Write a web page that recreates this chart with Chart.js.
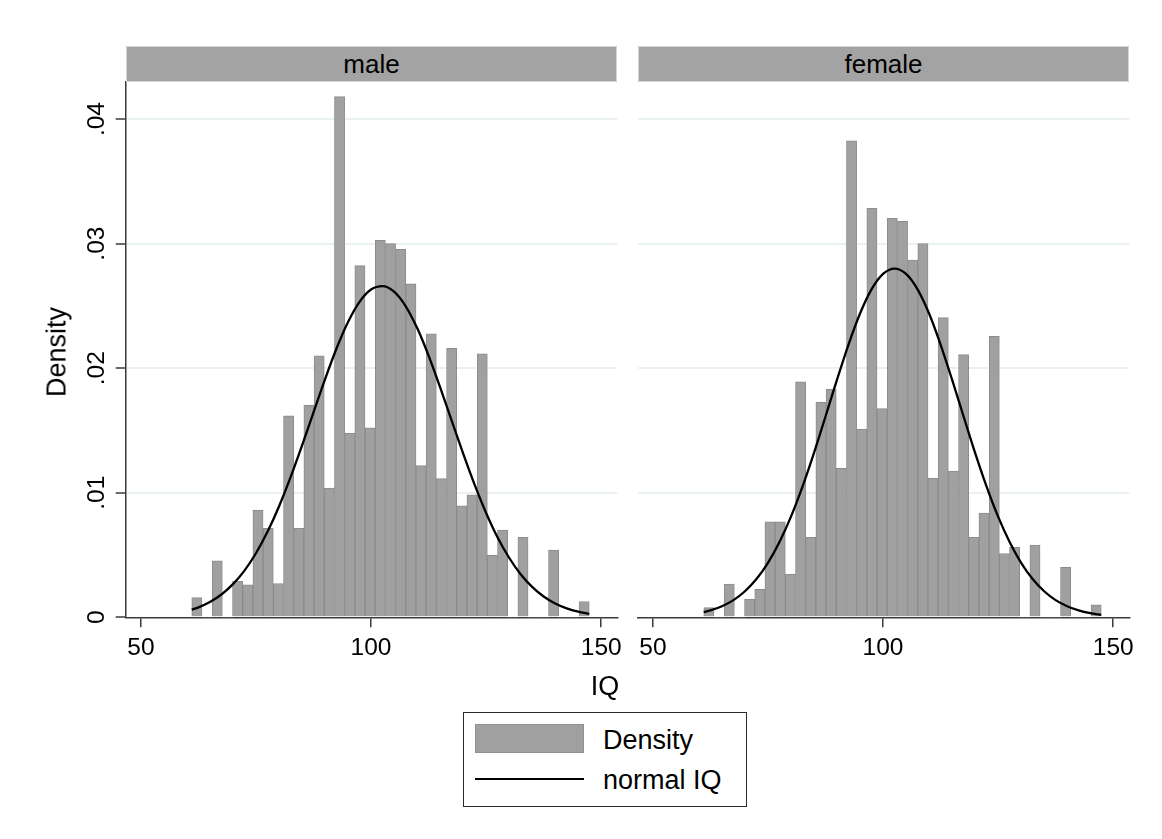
<!DOCTYPE html>
<html><head><meta charset="utf-8">
<script src="https://cdn.jsdelivr.net/npm/chart.js@4.4.1/dist/chart.umd.min.js"></script>
<style>
html,body{margin:0;padding:0;background:#fff;}
#wrap{position:relative;width:1162px;height:839px;overflow:hidden;font-family:'Liberation Sans',Arial,sans-serif;color:#000;background:#fff;}
canvas{position:absolute;left:0;top:0;}
.strip{position:absolute;box-sizing:border-box;background:#a3a3a3;border:1px solid #d6d6d6;display:flex;align-items:center;justify-content:center;font-size:26px;line-height:1;}
.ctr{position:absolute;transform:translate(-50%,-50%);white-space:nowrap;line-height:1;}
.lbl{position:absolute;white-space:nowrap;line-height:1;transform:translateY(-50%);}
</style></head><body>
<div id="wrap">
<canvas id="c1" width="1162" height="839"></canvas>
<canvas id="c2" width="1162" height="839"></canvas>
<div class="strip" style="left:125.7px;top:45.7px;width:491.6px;height:36px;" id="s1"></div>
<div class="strip" style="left:637.7px;top:45.7px;width:491.6px;height:36px;" id="s2"></div>
<div class="ctr" id="ytitle" style="left:57px;top:352px;font-size:27px;transform:translate(-50%,-50%) rotate(-90deg);"></div>
<div class="ctr" id="xtitle" style="left:605px;top:686px;font-size:27px;"></div>
<div style="position:absolute;box-sizing:border-box;left:462.7px;top:712.3px;width:284px;height:94.4px;border:1.5px solid #2a2a2a;background:#fff;"></div>
<div style="position:absolute;box-sizing:border-box;left:475px;top:724px;width:109.3px;height:29.3px;background:#a0a0a0;border:1px solid #909090;"></div>
<div style="position:absolute;left:475px;top:778.3px;width:109.3px;height:2px;background:#000;"></div>
<div class="lbl" id="leg1" style="left:603px;top:740px;font-size:27px;"></div>
<div class="lbl" id="leg2" style="left:603px;top:780px;font-size:27px;"></div>
</div>
<script>
// ---- data ----
const panelNames = ['male', 'female'];
const axisTitleY = 'Density';
const axisTitleX = 'IQ';
const legendLabels = ['Density', 'normal IQ'];

// histogram bin centres (IQ), shared by both panels
const binCenters = [62.16, 64.37, 66.59, 68.80, 71.01, 73.23, 75.44, 77.66, 79.87, 82.09,
  84.30, 86.51, 88.73, 90.94, 93.16, 95.37, 97.58, 99.80, 102.01, 104.23,
  106.44, 108.66, 110.87, 113.08, 115.30, 117.51, 119.73, 121.94, 124.16, 126.37,
  128.58, 130.80, 133.01, 135.23, 137.44, 139.66, 141.87, 144.08, 146.30];

const maleDensity = [0.00158, 0, 0.00454, 0, 0.00288, 0.0026, 0.0086, 0.00714, 0.00271, 0.01617,
  0.00714, 0.01702, 0.0210, 0.01038, 0.0418, 0.01478, 0.02824, 0.01522, 0.03026, 0.0300,
  0.02954, 0.02677, 0.01218, 0.02275, 0.01113, 0.02159, 0.00894, 0.00983, 0.02115, 0.00498,
  0.007, 0, 0.00642, 0, 0, 0.0054, 0, 0, 0.00127];

const femaleDensity = [0.00078, 0, 0.00266, 0, 0.00144, 0.00224, 0.00767, 0.00767, 0.00346, 0.0189,
  0.00642, 0.01727, 0.01833, 0.01196, 0.03826, 0.01511, 0.03283, 0.01675, 0.03203, 0.0318,
  0.02868, 0.03001, 0.01118, 0.02406, 0.01174, 0.02109, 0.00642, 0.00836, 0.02256, 0.00512,
  0.00562, 0, 0.00579, 0, 0, 0.00401, 0, 0, 0.001];

// normal curve points
const curveIQ = [61.05, 62.5, 65, 67.5, 70, 72.5, 75, 77.5, 80, 82.5, 85, 87.5, 90, 92.5, 95, 97.5,
  100, 102.5, 105, 107.5, 110, 112.5, 115, 117.5, 120, 122.5, 125, 127.5, 130, 132.5, 135, 137.5,
  140, 142.5, 145, 147.4];
const maleNormal = [0.00061, 0.0008, 0.00123, 0.00183, 0.00266, 0.00375, 0.00514, 0.00686, 0.0089, 0.01123,
  0.01378, 0.01646, 0.01911, 0.02158, 0.02371, 0.02533, 0.02632, 0.02659, 0.02614, 0.02499,
  0.02324, 0.02101, 0.01848, 0.01581, 0.01316, 0.01065, 0.00838, 0.00641, 0.00478, 0.00346,
  0.00244, 0.00167, 0.00111, 0.00072, 0.00045, 0.00028];
const femaleNormal = [0.00041, 0.00055, 0.00089, 0.00138, 0.00209, 0.00307, 0.00437, 0.00604, 0.00808, 0.01049,
  0.0132, 0.01612, 0.01908, 0.0219, 0.02439, 0.02633, 0.02757, 0.028, 0.02757, 0.02633,
  0.02439, 0.0219, 0.01908, 0.01612, 0.0132, 0.01049, 0.00808, 0.00604, 0.00437, 0.00307,
  0.00209, 0.00138, 0.00089, 0.00055, 0.00033, 0.0002];

const yTickValues = [0, 0.01, 0.02, 0.03, 0.04];
const yTickLabels = ['0', '.01', '.02', '.03', '.04'];
const xTickValues = [50, 100, 150];
const xTickLabels = ['50', '100', '150'];

// ---- text ----
document.getElementById('s1').textContent = panelNames[0];
document.getElementById('s2').textContent = panelNames[1];
document.getElementById('ytitle').textContent = axisTitleY;
document.getElementById('xtitle').textContent = axisTitleX;
document.getElementById('leg1').textContent = legendLabels[0];
document.getElementById('leg2').textContent = legendLabels[1];

Chart.defaults.font.family = "'Liberation Sans', Arial, sans-serif";

const AXIS = '#3a3a3a';
const TOP = 81.7, BOTTOM = 617.3, XH = 60;

function makeChart(id, dens, norm, isLeft, left, right) {
  return new Chart(document.getElementById(id), {
    type: 'bar',
    data: {
      datasets: [
        { type: 'line', data: curveIQ.map((x, i) => ({ x: x, y: norm[i] })),
          borderColor: '#000', borderWidth: 2.3, pointRadius: 0, fill: false,
          cubicInterpolationMode: 'monotone', order: 0 },
        { type: 'bar', data: binCenters.map((x, i) => ({ x: x, y: dens[i] })),
          backgroundColor: '#a0a0a0', borderColor: '#8c8c8c',
          borderWidth: c => (c.raw && c.raw.y > 0) ? 1 : 0,
          barPercentage: 1, categoryPercentage: 1, order: 1 }
      ]
    },
    options: {
      responsive: false, animation: false, devicePixelRatio: 1,
      layout: { padding: { left: isLeft ? 0 : left, right: 1162 - right, top: TOP, bottom: 839 - BOTTOM - XH } },
      plugins: { legend: { display: false }, tooltip: { enabled: false } },
      scales: {
        x: {
          type: 'linear', min: 46.7, max: 153.5, offset: false,
          afterBuildTicks: s => { s.ticks = xTickValues.map(v => ({ value: v })); },
          afterFit: s => { s.height = XH; },
          ticks: { callback: (v, i) => xTickLabels[i], font: { size: 24.5 }, color: '#000',
                   padding: 6, minRotation: 0, maxRotation: 0, autoSkip: false },
          grid: { display: true, offset: false, drawOnChartArea: false, drawTicks: true, tickLength: 10,
                  color: AXIS, tickColor: AXIS, lineWidth: 1.5, tickWidth: 1.5 },
          border: { display: true, color: AXIS, width: 1.5 }
        },
        y: {
          type: 'linear', min: 0, max: 0.043,
          afterBuildTicks: s => { s.ticks = yTickValues.map(v => ({ value: v })); },
          afterFit: s => { s.width = isLeft ? left : 0; },
          ticks: { display: isLeft, callback: (v, i) => yTickLabels[i], font: { size: 24.5 }, color: '#000',
                   minRotation: 90, maxRotation: 90, crossAlign: 'center', padding: 1 },
          grid: { color: c => (c.tick && c.tick.value === 0) ? 'rgba(0,0,0,0)' : '#e9f1f2',
                  lineWidth: 2, drawTicks: isLeft, tickLength: 10, tickColor: AXIS, tickWidth: 1.5 },
          border: { display: isLeft, color: AXIS, width: 1.5 }
        }
      }
    }
  });
}

makeChart('c1', maleDensity, maleNormal, true, 125.7, 617.3);
makeChart('c2', femaleDensity, femaleNormal, false, 637.7, 1129.3);
</script>
</body></html>
